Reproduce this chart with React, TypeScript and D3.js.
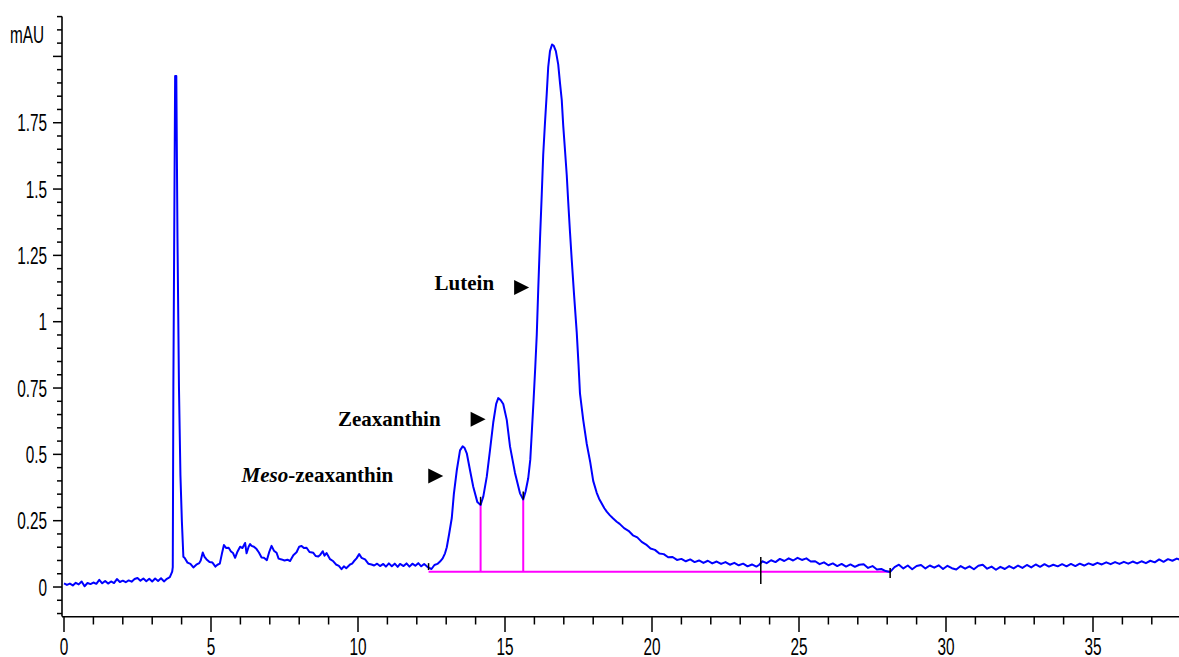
import React from "react";
import * as d3 from "d3";

// ---- data (time in min, absorbance in mAU) ----
const preInjection: [number, number][] = [
  [0.0, 0.014], [0.1, 0.008], [0.2, 0.013], [0.3, 0.006], [0.4, 0.016], [0.5, 0.01],
  [0.6, 0.021], [0.7, 0.003], [0.8, 0.015], [0.9, 0.011], [1.0, 0.017], [1.1, 0.012],
  [1.2, 0.027], [1.3, 0.014], [1.4, 0.023], [1.5, 0.013], [1.6, 0.021], [1.7, 0.015],
  [1.8, 0.03], [1.9, 0.019], [2.0, 0.024], [2.1, 0.018], [2.2, 0.025], [2.3, 0.02],
  [2.4, 0.03], [2.5, 0.034], [2.6, 0.024], [2.7, 0.032], [2.8, 0.022], [2.9, 0.031],
  [3.0, 0.021], [3.1, 0.032], [3.2, 0.023], [3.3, 0.033], [3.4, 0.021], [3.5, 0.031],
  [3.6, 0.037], [3.68, 0.058],
];

const solventSpike: [number, number][] = [
  [3.7, 0.075], [3.72, 0.755], [3.78, 1.926], [3.82, 1.926], [3.86, 1.315],
  [3.91, 0.755], [3.96, 0.422], [4.01, 0.246], [4.06, 0.114],
];

const earlyRegion: [number, number][] = [
  [4.1, 0.11], [4.2, 0.092], [4.3, 0.087], [4.4, 0.074], [4.5, 0.084], [4.6, 0.09],
  [4.65, 0.1], [4.72, 0.13], [4.78, 0.114], [4.85, 0.104], [4.95, 0.094], [5.05, 0.092],
  [5.15, 0.077], [5.22, 0.084], [5.3, 0.088], [5.37, 0.125], [5.44, 0.158], [5.52, 0.147],
  [5.6, 0.148], [5.68, 0.134], [5.75, 0.128], [5.82, 0.11], [5.9, 0.133], [5.99, 0.152],
  [6.07, 0.147], [6.16, 0.166], [6.21, 0.127], [6.28, 0.152], [6.33, 0.162], [6.38, 0.155],
  [6.46, 0.152], [6.55, 0.143], [6.63, 0.13], [6.72, 0.111], [6.8, 0.11], [6.9, 0.101],
  [6.98, 0.132], [7.06, 0.155], [7.14, 0.137], [7.23, 0.129], [7.3, 0.107], [7.4, 0.104],
  [7.5, 0.1], [7.6, 0.103], [7.69, 0.098], [7.8, 0.12], [7.91, 0.131], [8.0, 0.152],
  [8.08, 0.155], [8.16, 0.147], [8.25, 0.148], [8.35, 0.132], [8.48, 0.129], [8.56, 0.117],
  [8.65, 0.115], [8.72, 0.122], [8.8, 0.135], [8.86, 0.118], [8.93, 0.128], [9.05, 0.105],
  [9.16, 0.097], [9.25, 0.085], [9.35, 0.08], [9.44, 0.067], [9.52, 0.078], [9.6, 0.071],
  [9.73, 0.085], [9.8, 0.088], [9.86, 0.097], [9.95, 0.108], [10.04, 0.124], [10.12, 0.11],
  [10.24, 0.104], [10.35, 0.088], [10.46, 0.085], [10.55, 0.081], [10.65, 0.088], [10.75, 0.079],
  [10.86, 0.087], [10.95, 0.077], [11.05, 0.089], [11.15, 0.078], [11.25, 0.088], [11.35, 0.076],
  [11.43, 0.087], [11.55, 0.079], [11.65, 0.089], [11.75, 0.077], [11.85, 0.088], [11.95, 0.08],
  [12.05, 0.09], [12.15, 0.078], [12.25, 0.087], [12.35, 0.077], [12.42, 0.072], [12.5, 0.068],
  [12.6, 0.083], [12.7, 0.087], [12.79, 0.096], [12.88, 0.108], [12.96, 0.127],
];

const carotenoidPeaks: [number, number][] = [
  [13.02, 0.15], [13.1, 0.2], [13.19, 0.26], [13.26, 0.35], [13.36, 0.44], [13.47, 0.515],
  [13.56, 0.53], [13.62, 0.525], [13.7, 0.504], [13.81, 0.44], [13.92, 0.378], [14.06, 0.32],
  [14.17, 0.309], [14.26, 0.34], [14.38, 0.416], [14.49, 0.516], [14.6, 0.62], [14.7, 0.69],
  [14.77, 0.712], [14.85, 0.705], [14.94, 0.69], [15.06, 0.63], [15.17, 0.53], [15.34, 0.43],
  [15.51, 0.353], [15.62, 0.33], [15.7, 0.36], [15.79, 0.41], [15.86, 0.48], [15.92, 0.6],
  [15.97, 0.7], [16.03, 0.83], [16.08, 0.95], [16.13, 1.12], [16.19, 1.31], [16.25, 1.48],
  [16.3, 1.63], [16.36, 1.75], [16.42, 1.86], [16.47, 1.96], [16.53, 2.02], [16.6, 2.045],
  [16.66, 2.04], [16.73, 2.02], [16.81, 1.97], [16.87, 1.9], [16.93, 1.836], [16.98, 1.74],
  [17.04, 1.647], [17.1, 1.553], [17.15, 1.452], [17.21, 1.339], [17.27, 1.233], [17.35, 1.1],
  [17.44, 0.96], [17.5, 0.84], [17.55, 0.73], [17.66, 0.63], [17.78, 0.54], [17.9, 0.47],
  [18.0, 0.4], [18.12, 0.355], [18.2, 0.333], [18.29, 0.315], [18.38, 0.297], [18.46, 0.284],
  [18.57, 0.27], [18.68, 0.258], [18.8, 0.246], [18.9, 0.238], [19.05, 0.222], [19.2, 0.212],
  [19.35, 0.195], [19.5, 0.187], [19.65, 0.17], [19.8, 0.16], [19.95, 0.145],
];

const lateRegion: [number, number][] = [
  [20.1, 0.14], [20.25, 0.126], [20.4, 0.124], [20.55, 0.112], [20.7, 0.113], [20.85, 0.102],
  [21.0, 0.106], [21.15, 0.097], [21.3, 0.104], [21.45, 0.094], [21.6, 0.1], [21.75, 0.091],
  [21.9, 0.099], [22.05, 0.089], [22.2, 0.096], [22.35, 0.087], [22.5, 0.094], [22.65, 0.084],
  [22.8, 0.091], [22.95, 0.082], [23.1, 0.088], [23.25, 0.078], [23.4, 0.085], [23.55, 0.077],
  [23.65, 0.084], [23.75, 0.097], [23.9, 0.09], [24.05, 0.101], [24.2, 0.094], [24.35, 0.106],
  [24.5, 0.098], [24.65, 0.108], [24.8, 0.1], [24.95, 0.11], [25.1, 0.102], [25.25, 0.108],
  [25.4, 0.096], [25.55, 0.097], [25.7, 0.086], [25.85, 0.093], [26.0, 0.082], [26.15, 0.089],
  [26.3, 0.079], [26.45, 0.087], [26.6, 0.077], [26.75, 0.085], [26.9, 0.076], [27.05, 0.084],
  [27.2, 0.086], [27.35, 0.072], [27.5, 0.079], [27.65, 0.066], [27.8, 0.068], [27.95, 0.06],
  [28.1, 0.057], [28.25, 0.075], [28.4, 0.084], [28.55, 0.07], [28.7, 0.081], [28.85, 0.067],
  [29.0, 0.079], [29.15, 0.083], [29.3, 0.07], [29.45, 0.081], [29.6, 0.073], [29.75, 0.082],
  [29.9, 0.068], [30.05, 0.08], [30.2, 0.071], [30.35, 0.066], [30.5, 0.079], [30.65, 0.069],
  [30.8, 0.078], [30.95, 0.067], [31.1, 0.08], [31.25, 0.084], [31.4, 0.069], [31.55, 0.077],
  [31.7, 0.065], [31.85, 0.076], [32.0, 0.068], [32.15, 0.079], [32.3, 0.07], [32.45, 0.081],
  [32.6, 0.072], [32.75, 0.083], [32.9, 0.074], [33.05, 0.085], [33.2, 0.076], [33.35, 0.086],
  [33.5, 0.077], [33.65, 0.084], [33.8, 0.078], [33.95, 0.086], [34.1, 0.078], [34.25, 0.087],
  [34.4, 0.079], [34.55, 0.088], [34.7, 0.081], [34.85, 0.089], [35.0, 0.083], [35.15, 0.091],
  [35.3, 0.085], [35.45, 0.093], [35.6, 0.086], [35.75, 0.094], [35.9, 0.087], [36.05, 0.095],
  [36.2, 0.088], [36.35, 0.096], [36.5, 0.089], [36.65, 0.097], [36.8, 0.09], [36.95, 0.099],
  [37.1, 0.093], [37.25, 0.104], [37.4, 0.095], [37.55, 0.105], [37.7, 0.099], [37.85, 0.107],
  [38.0, 0.101],
];

// integration baseline and peak splits
const integrationBaseline: [number, number][] = [[12.4, 0.058], [28.1, 0.058]];
const peakSplits: [number, number][] = [[14.17, 0.309], [15.62, 0.33]];
// event markers: time, low value, high value
const eventMarks: [number, number, number][] = [
  [12.4, 0.064, 0.09], [14.17, 0.309, 0.34], [15.62, 0.33, 0.36], [23.7, 0.011, 0.113], [28.1, 0.034, 0.072],
];

const yMajorTicks = [0, 0.25, 0.5, 0.75, 1, 1.25, 1.5, 1.75, 2];
const yTickLabels = ["0", "0.25", "0.5", "0.75", "1", "1.25", "1.5", "1.75", ""];
const xMajorTicks = [0, 5, 10, 15, 20, 25, 30, 35];

// arrow tip position (time, value) for each peak annotation
const peakLabels = [
  { name: "Lutein", italic: "", time: 15.82, value: 1.129, gap: 35, dy: 3 },
  { name: "Zeaxanthin", italic: "", time: 14.34, value: 0.632, gap: 45, dy: 7 },
  { name: "-zeaxanthin", italic: "Meso", time: 12.9, value: 0.418, gap: 50, dy: 6 },
];

const W = 1179;
const H = 657;

export default function App() {
  const x = d3.scaleLinear().domain([0, 38]).range([64, 64 + 38 * 29.4]);
  const y = d3.scaleLinear().domain([-0.11, 2.15]).range([616.2, 16.6]);

  const trace = [...preInjection, ...solventSpike, ...earlyRegion, ...carotenoidPeaks, ...lateRegion];
  const line = d3
    .line<[number, number]>()
    .x((d) => x(d[0]))
    .y((d) => y(d[1]))
    .curve(d3.curveLinear);

  const yMinor = d3.range(-0.1, 2.1501, 0.05).map((v) => Math.round(v * 100) / 100);
  const xMinor = d3.range(0, 39, 1);

  const axisFont = "'Liberation Sans', Arial, sans-serif";
  const serif = "'Liberation Serif', 'Times New Roman', serif";
  const sx = 0.64;

  return (
    <svg
      width={W}
      height={H}
      style={{ position: "absolute", left: 0, top: 0, background: "#fff" }}
    >
      <rect x={0} y={0} width={W} height={H} fill="#fff" />

      {/* Y axis */}
      <line x1={62} x2={62} y1={y(2.15)} y2={616.5} stroke="#000" strokeWidth={1.6} />
      {yMinor.map((v, i) => {
        const major = yMajorTicks.some((m) => Math.abs(m - v) < 1e-6);
        return (
          <line
            key={"ym" + i}
            x1={major ? 53 : 57}
            x2={62}
            y1={y(v)}
            y2={y(v)}
            stroke="#000"
            strokeWidth={1.5}
          />
        );
      })}
      {yMajorTicks.map((v, i) =>
        yTickLabels[i] ? (
          <text
            key={"yl" + i}
            transform={`translate(47,${y(v) + 8.5}) scale(${sx},1)`}
            textAnchor="end"
            fontFamily={axisFont}
            fontSize={24}
            fill="#000"
          >
            {yTickLabels[i]}
          </text>
        ) : null
      )}
      <text
        transform={`translate(44,43) scale(${sx},1)`}
        textAnchor="end"
        fontFamily={axisFont}
        fontSize={24}
        fill="#000"
      >
        mAU
      </text>

      {/* X axis */}
      <line x1={62} x2={W} y1={616.8} y2={616.8} stroke="#000" strokeWidth={1.6} />
      {xMinor.map((t) => {
        const major = t % 5 === 0;
        return (
          <line
            key={"xm" + t}
            x1={x(t)}
            x2={x(t)}
            y1={616.8}
            y2={major ? 632 : 624.5}
            stroke="#000"
            strokeWidth={1.5}
          />
        );
      })}
      {xMajorTicks.map((t) => (
        <text
          key={"xl" + t}
          transform={`translate(${x(t)},654.5) scale(${sx},1)`}
          textAnchor="middle"
          fontFamily={axisFont}
          fontSize={24}
          fill="#000"
        >
          {String(t)}
        </text>
      ))}

      {/* integration baseline */}
      <line
        x1={x(integrationBaseline[0][0])}
        x2={x(integrationBaseline[1][0])}
        y1={y(integrationBaseline[0][1])}
        y2={y(integrationBaseline[1][1])}
        stroke="#ff00ff"
        strokeWidth={2}
      />
      {peakSplits.map((p, i) => (
        <line
          key={"ps" + i}
          x1={x(p[0])}
          x2={x(p[0])}
          y1={y(integrationBaseline[0][1])}
          y2={y(p[1])}
          stroke="#ff00ff"
          strokeWidth={2}
        />
      ))}

      {/* chromatogram trace */}
      <path d={line(trace) || ""} fill="none" stroke="#0000ff" strokeWidth={2} strokeLinejoin="round" />

      {/* event markers */}
      {eventMarks.map((e, i) => (
        <line
          key={"ev" + i}
          x1={x(e[0])}
          x2={x(e[0])}
          y1={y(e[1])}
          y2={y(e[2])}
          stroke="#000"
          strokeWidth={1.5}
        />
      ))}

      {/* peak labels */}
      {peakLabels.map((p, i) => {
        const px = x(p.time);
        const py = y(p.value);
        return (
          <g key={"pl" + i}>
            <path
              d={`M${px - 15},${py - 7.5} L${px},${py} L${px - 15},${py + 7.5} Z`}
              fill="#000"
            />
            <text
              x={px - p.gap}
              y={py + p.dy}
              textAnchor="end"
              fontFamily={serif}
              fontWeight="bold"
              fontSize={21}
              fill="#000"
            >
              {p.italic ? <tspan fontStyle="italic">{p.italic}</tspan> : null}
              {p.name}
            </text>
          </g>
        );
      })}
    </svg>
  );
}
